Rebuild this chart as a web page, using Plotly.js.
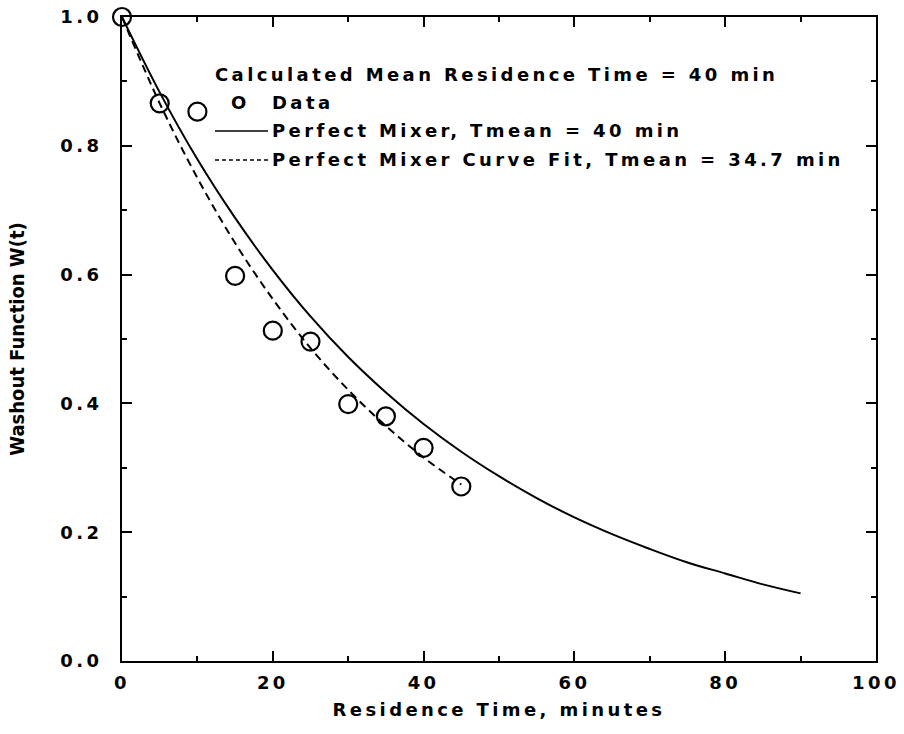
<!DOCTYPE html>
<html>
<head>
<meta charset="utf-8">
<script src="https://cdn.plot.ly/plotly-3.0.1.min.js"></script>
<style>
  html, body { margin: 0; padding: 0; background: #fff; }
  #chart { width: 904px; height: 734px; }
  .xtick text, .ytick text, .annotation-text, .g-xtitle text { letter-spacing: 3.4px; }
</style>
</head>
<body>
<div id="chart"></div>
<script>
// Data
const dataTime = [0, 5, 10, 15, 20, 25, 30, 35, 40, 45];
const dataW = [1.0, 0.866, 0.853, 0.598, 0.513, 0.496, 0.399, 0.380, 0.331, 0.271];

const mixerTime = [0, 5, 10, 15, 20, 25, 30, 35, 40, 45, 50, 55, 60, 65, 70, 75, 80, 85, 90];
const mixerW = [1.0, 0.883, 0.779, 0.688, 0.607, 0.535, 0.472, 0.417, 0.368, 0.325, 0.287, 0.253, 0.223, 0.197, 0.174, 0.153, 0.136, 0.119, 0.105];

const fitTime = [0, 5, 10, 15, 20, 25, 30, 35, 40, 45];
const fitW = [1.0, 0.866, 0.750, 0.649, 0.562, 0.486, 0.421, 0.365, 0.316, 0.274];

const xTickVals = [0, 20, 40, 60, 80, 100];
const yTickVals = [0.0, 0.2, 0.4, 0.6, 0.8, 1.0];
const yTickText = ['0.0', '0.2', '0.4', '0.6', '0.8', '1.0'];

const legendHeader = 'Calculated Mean Residence Time = 40 min';
const legendData = 'Data';
const legendMixer = 'Perfect Mixer, Tmean = 40 min';
const legendFit = 'Perfect Mixer Curve Fit, Tmean = 34.7 min';

const FONT = 'DejaVu Sans, sans-serif';
const TXT = { family: FONT, size: 18, color: '#000', weight: 'bold' };

const traces = [
  { x: mixerTime, y: mixerW, mode: 'lines', line: { color: '#000', width: 2, shape: 'spline' }, cliponaxis: false },
  { x: fitTime, y: fitW, mode: 'lines', line: { color: '#000', width: 2, dash: '8px,5px', shape: 'spline' }, cliponaxis: false },
  { x: dataTime, y: dataW, mode: 'markers', marker: { symbol: 'circle-open', size: 18, color: '#000', line: { width: 2.2, color: '#000' } }, cliponaxis: false }
];

const axisCommon = {
  showgrid: false, zeroline: false, showline: true, linecolor: '#000', linewidth: 2,
  ticks: 'inside', ticklen: 10, tickwidth: 2, tickcolor: '#000', mirror: 'allticks',
  tickfont: TXT
};

const layout = {
  width: 904, height: 734,
  margin: { l: 122, r: 28, t: 17, b: 73 },
  paper_bgcolor: '#fff', plot_bgcolor: '#fff',
  showlegend: false,
  xaxis: Object.assign({}, axisCommon, {
    range: [0, 100], tickvals: xTickVals, ticktext: xTickVals.map(String),
    minor: { dtick: 10, ticklen: 5, tickwidth: 2, tickcolor: '#000', ticks: 'inside' },
    ticklabelstandoff: 4,
    title: { text: 'Residence Time, minutes', font: TXT, standoff: 12 }
  }),
  yaxis: Object.assign({}, axisCommon, {
    range: [0, 1.0], tickvals: yTickVals, ticktext: yTickText,
    minor: { dtick: 0.1, ticklen: 5, tickwidth: 2, tickcolor: '#000', ticks: 'inside' },
    ticklabelstandoff: 14,
    title: { text: 'Washout Function W(t)', font: { family: 'Liberation Sans Narrow, DejaVu Sans Condensed, sans-serif', size: 20, color: '#000', weight: 'bold' }, standoff: 30 }
  }),
  annotations: [
    { xref: 'paper', yref: 'paper', x: 0.1207, y: 0.910, xanchor: 'left', yanchor: 'middle', text: legendHeader, showarrow: false, font: TXT },
    { xref: 'paper', yref: 'paper', x: 0.1565, y: 0.868, xanchor: 'center', yanchor: 'middle', text: 'O', showarrow: false, font: TXT },
    { xref: 'paper', yref: 'paper', x: 0.196, y: 0.868, xanchor: 'left', yanchor: 'middle', text: legendData, showarrow: false, font: TXT },
    { xref: 'paper', yref: 'paper', x: 0.196, y: 0.823, xanchor: 'left', yanchor: 'middle', text: legendMixer, showarrow: false, font: TXT },
    { xref: 'paper', yref: 'paper', x: 0.196, y: 0.778, xanchor: 'left', yanchor: 'middle', text: legendFit, showarrow: false, font: TXT }
  ],
  shapes: [
    { type: 'line', xref: 'paper', yref: 'paper', x0: 0.1233, x1: 0.1936, y0: 0.823, y1: 0.823, line: { color: '#000', width: 1.5 } },
    { type: 'line', xref: 'paper', yref: 'paper', x0: 0.1233, x1: 0.1936, y0: 0.778, y1: 0.778, line: { color: '#000', width: 1.5, dash: '4px,3px' } }
  ]
};

Plotly.newPlot('chart', traces, layout, { displayModeBar: false, staticPlot: true });
</script>
</body>
</html>
